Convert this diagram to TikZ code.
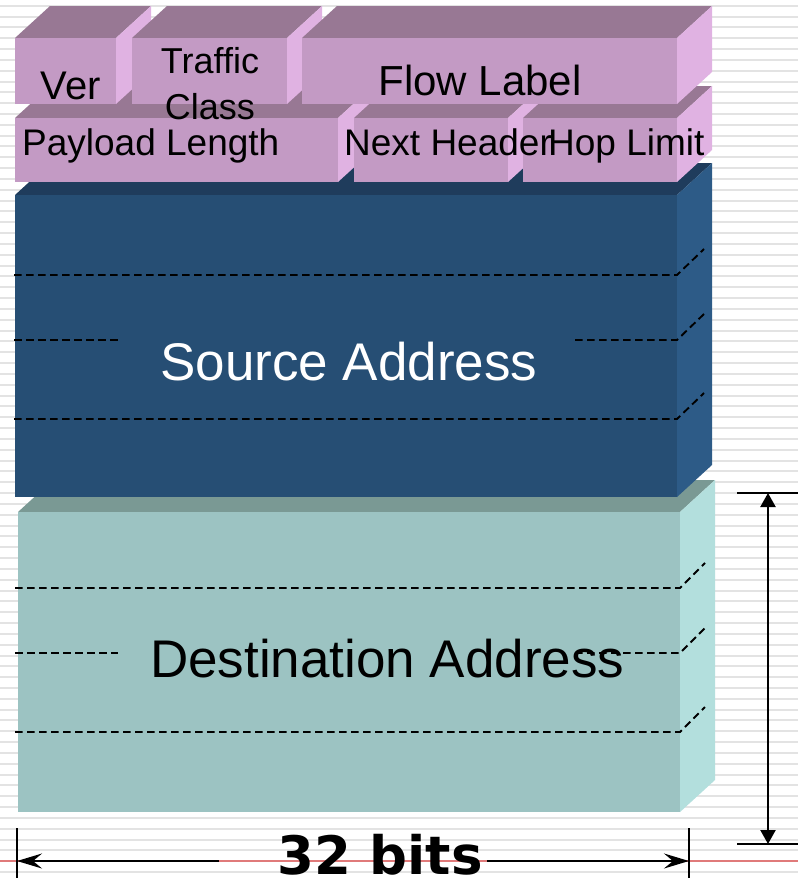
\documentclass[tikz,border=0pt]{standalone}
\usepackage{fontspec}
\setmainfont{Liberation Sans}
\newfontfamily\bitsfont{DejaVu Sans}
\usetikzlibrary{arrows.meta}
\definecolor{pinkF}{HTML}{C39AC4}
\definecolor{pinkT}{HTML}{987894}
\definecolor{pinkS}{HTML}{E0B2E2}
\definecolor{srcF}{HTML}{264E74}
\definecolor{srcT}{HTML}{1F3C5C}
\definecolor{srcS}{HTML}{2D5B87}
\definecolor{dstF}{HTML}{9CC3C2}
\definecolor{dstT}{HTML}{7A9994}
\definecolor{dstS}{HTML}{B3DFDD}
\definecolor{stripe}{HTML}{E3E3E3}
\definecolor{redline}{HTML}{E07A7A}
\newcommand\ipblock[7]{%
  \fill[#6] (#1,#2) -- (#1+35,#2-32) -- (#3+35,#2-32) -- (#3,#2) -- cycle;
  \fill[#7] (#3,#2) -- (#3+35,#2-32) -- (#3+35,#4-32) -- (#3,#4) -- cycle;
  \fill[#5] (#1,#2) rectangle (#3,#4);
}
\tikzset{
  lbl/.style={inner sep=0pt, text=black},
  dsh/.style={draw=black, line width=1.9pt, dash pattern=on 7.5pt off 4.5pt},
  tick/.style={draw=black, line width=2pt},
  dimh/.style={draw=black, line width=2pt, -{Stealth[length=25pt,width=15pt,inset=9pt]}},
  dimv/.style={draw=black, line width=2.2pt, {Triangle[length=14pt,width=15pt]}-{Triangle[length=14pt,width=15pt]}}
}
\begin{document}
\begin{tikzpicture}[x=1pt,y=-1pt]
\useasboundingbox (0,0) rectangle (798,878);
\fill[white] (0,0) rectangle (798,878);
% background stripes
\foreach \i in {0,...,81} {
  \draw[stripe, line width=2pt] (0,5.7+10.83*\i) -- (798,5.7+10.83*\i);
}
% blocks, from bottom to top
\ipblock{18}{512}{680}{812}{dstF}{dstT}{dstS}
\ipblock{15}{195}{677}{497}{srcF}{srcT}{srcS}
\ipblock{15}{118}{338}{182}{pinkF}{pinkT}{pinkS}
\ipblock{354}{118}{508}{182}{pinkF}{pinkT}{pinkS}
\ipblock{523}{118}{677}{182}{pinkF}{pinkT}{pinkS}
\ipblock{15}{38}{116}{104}{pinkF}{pinkT}{pinkS}
\ipblock{132}{38}{287}{104}{pinkF}{pinkT}{pinkS}
\ipblock{302}{38}{677}{104}{pinkF}{pinkT}{pinkS}
% dashed lines in source address
\draw[dsh] (14,275) -- (677,275) -- (704,249);
\draw[dsh] (14,340) -- (118,340);
\draw[dsh] (575,340) -- (677,340) -- (704,314);
\draw[dsh] (14,419) -- (677,419) -- (704,393);
% dashed lines in destination address
\draw[dsh] (15,588) -- (680,588) -- (705,563);
\draw[dsh] (15,653) -- (118,653);
\draw[dsh] (575,653) -- (680,653) -- (705,628);
\draw[dsh] (15,732) -- (680,732) -- (705,707);
% labels
\node[lbl, anchor=base, font=\fontsize{40}{48}\selectfont] (ver) at (71,99) {Ver};
\node[lbl, anchor=center, align=center, font=\fontsize{36}{46}\selectfont] (tc) at (210,84) {Traffic\\Class};
\node[lbl, anchor=base, font=\fontsize{42}{50}\selectfont] (fl) at (480,95) {Flow Label};
\node[lbl, anchor=base west, font=\fontsize{37}{44}\selectfont] (pl) at (22,155) {Payload Length};
\node[lbl, anchor=base west, font=\fontsize{37}{44}\selectfont] (nh) at (344,155) {Next Header};
\node[lbl, anchor=base west, font=\fontsize{37}{44}\selectfont] (hl) at (548,155) {Hop Limit};
\node[lbl, anchor=base west, text=white, font=\fontsize{53}{60}\selectfont] (sa) at (160,380) {Source Address};
\node[lbl, anchor=base west, font=\fontsize{53}{60}\selectfont] (da) at (150,677) {Destination Address};
% red line
\draw[redline, line width=1.6pt] (0,861) -- (798,861);
% vertical dimension
\coordinate (vt) at (768,493);
\coordinate (vb) at (768,844);
\draw[tick] (737,493) -- (798,493);
\draw[tick] (737,844) -- (798,844);
\draw[dimv] (vt) -- (vb);
% horizontal dimension
\coordinate (hlft) at (17,861);
\coordinate (hrgt) at (689,861);
\draw[tick] (17,828) -- (17,878);
\draw[tick] (689,828) -- (689,878);
\node[lbl, anchor=base, font=\bitsfont\bfseries\fontsize{53}{60}\selectfont] (bits) at (380,874) {32 bits};
\draw[dimh] (219,861) -- (hlft);
\draw[dimh] (487,861) -- (hrgt);
\end{tikzpicture}
\end{document}
